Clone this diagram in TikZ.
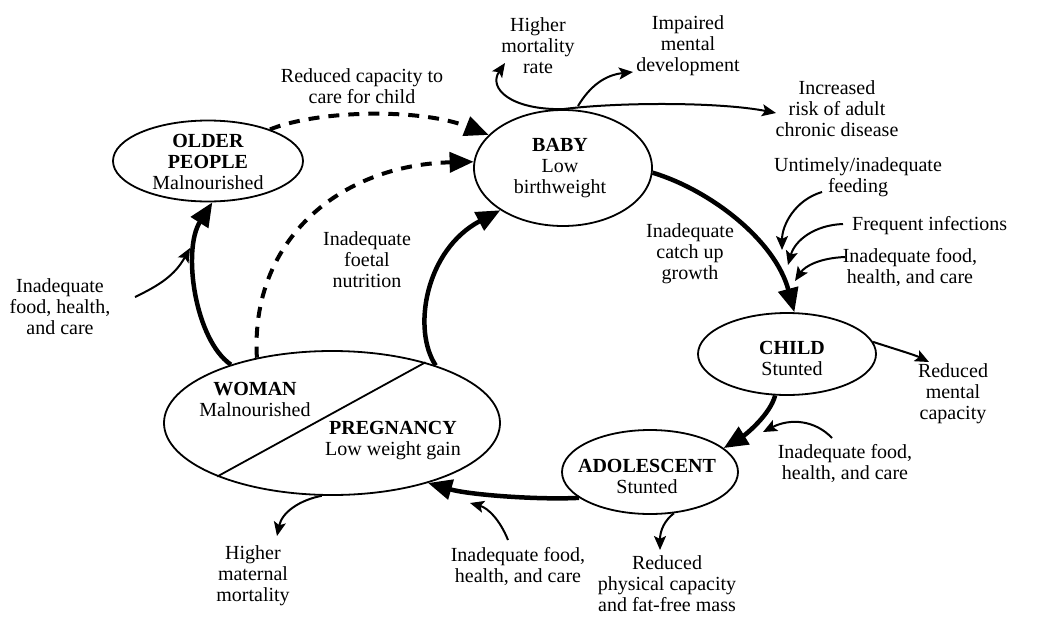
\documentclass[tikz,border=0pt]{standalone}
\usepackage{fontspec}
\setmainfont{Liberation Serif}
\usetikzlibrary{arrows.meta,shapes.geometric}
\begin{document}
\begin{tikzpicture}[x=1pt,y=-1pt,
  stage/.style={draw,ellipse,line width=1.8pt,inner sep=0pt},
  txt/.style={align=center,font=\fontsize{20}{21}\selectfont,inner sep=0pt},
  mainlink/.style={line width=4.5pt,-{Triangle[length=24pt,width=20pt]}},
  dashlink/.style={line width=4pt,dash pattern=on 11pt off 9pt,-{Triangle[length=24pt,width=20pt]}},
  thinlink/.style={line width=2pt,-{Stealth[length=14pt,width=12pt,inset=3pt]}},
]
\useasboundingbox (0,0) rectangle (1046,616);

% life-cycle stages
\node[stage,minimum width=190pt,minimum height=81pt] (op) at (208,161) {};
\node[stage,minimum width=178pt,minimum height=116pt] (baby) at (563,168) {};
\node[stage,minimum width=178pt,minimum height=82pt] (child) at (787,354) {};
\node[stage,minimum width=176pt,minimum height=84pt] (ado) at (650,472) {};
\node[stage,minimum width=336pt,minimum height=144pt] (wp) at (332,423) {};
\draw[line width=1.8pt] (wp.33.4) -- (wp.205.7);

\node[txt] (opt) at (208,162) {\textbf{OLDER}\\\textbf{PEOPLE}\\Malnourished};
\node[txt] (babyt) at (560,168) {\textbf{BABY}\\Low\\birthweight};
\node[txt] (childt) at (792,358) {\textbf{CHILD}\\Stunted};
\node[txt] (adot) at (647,476) {\textbf{ADOLESCENT}\\Stunted};
\node[txt] (womt) at (255,399) {\textbf{WOMAN}\\Malnourished};
\node[txt] (pregt) at (393,441) {\textbf{PREGNANCY}\\Low weight gain};

% side labels
\node[txt] (care) at (362,86) {Reduced capacity to\\care for child};
\node[txt] (foetal) at (367,260) {Inadequate\\foetal\\nutrition};
\node[txt] (fhcL) at (60,307) {Inadequate\\food, health,\\and care};
\node[txt] (mort) at (538,46) {Higher\\mortality\\rate};
\node[txt] (ment) at (688,46) {Impaired\\mental\\development};
\node[txt] (risk) at (837,109) {Increased\\risk of adult\\chronic disease};
\node[txt] (feed) at (858,177) {Untimely/inadequate\\feeding};
\node[txt,anchor=west] (infec) at (852,226) {Frequent infections};
\node[txt] (fhcR) at (910,267) {Inadequate food,\\health, and care};
\node[txt] (catch) at (690,254) {Inadequate\\catch up\\growth};
\node[txt] (rmc) at (953,394) {Reduced\\mental\\capacity};
\node[txt] (fhcC) at (845,463) {Inadequate food,\\health, and care};
\node[txt] (rpc) at (667,584) {Reduced\\physical capacity\\and fat-free mass};
\node[txt] (fhcB) at (518,566) {Inadequate food,\\health, and care};
\node[txt] (hmm) at (253,576) {Higher\\maternal\\mortality};

% main cycle
\draw[mainlink] (wp.150) .. controls (195,340) and (182,250) .. (op.276);
\draw[mainlink] (wp.29) .. controls (412,330) and (425,250) .. (baby.214);
\draw[mainlink] (baby.-3) .. controls (710,190) and (775,240) .. (child.80);
\draw[mainlink] (child.254) .. controls (770,415) and (745,435) .. (ado.18);
\draw[mainlink] (ado.200) .. controls (540,500) and (470,495) .. (wp.-32);

% intergenerational links
\draw[dashlink] (op.27) .. controls (318,110) and (420,108) .. (baby.156);
\draw[dashlink] (wp.139) .. controls (250,240) and (340,165) .. (baby.176);

% outcomes and influences
\coordinate (mortTip) at (505,63);
\coordinate (riskTip) at (776,113);
\coordinate (branch) at (578,106);
\coordinate (mentTip) at (633,72);
\draw[thinlink] (baby.north) .. controls (510,110) and (488,88) .. (mortTip);
\draw[thinlink] (baby.north) .. controls (620,102) and (720,102) .. (riskTip);
\draw[thinlink] (branch) .. controls (590,86) and (605,75) .. (mentTip);

\coordinate (feedS) at (822,192);
\coordinate (feedT) at (782,250);
\draw[thinlink] (feedS) .. controls (795,200) and (782,225) .. (feedT);
\coordinate (infS) at (843,224);
\coordinate (infT) at (788,265);
\draw[thinlink] (infS) .. controls (815,225) and (795,240) .. (infT);
\coordinate (fhcRS) at (845,257);
\coordinate (fhcRT) at (795,281);
\draw[thinlink] (fhcRS) .. controls (820,258) and (805,266) .. (fhcRT);

\coordinate (rmcT) at (929,362);
\draw[thinlink] (child.8) .. controls (895,349) and (915,355) .. (rmcT);
\coordinate (fhcCS) at (832,438);
\coordinate (fhcCT) at (763,432);
\draw[thinlink] (fhcCS) .. controls (815,420) and (790,418) .. (fhcCT);
\coordinate (rpcT) at (660,550);
\draw[thinlink] (ado.300) .. controls (665,520) and (660,530) .. (rpcT);
\coordinate (hmmT) at (277,536);
\draw[thinlink] (wp.262) .. controls (300,500) and (282,512) .. (hmmT);
\coordinate (fhcBS) at (508,540);
\coordinate (fhcBT) at (470,503);
\draw[thinlink] (fhcBS) .. controls (500,520) and (488,508) .. (fhcBT);
\coordinate (fhcLS) at (135,297);
\coordinate (fhcLT) at (190,248);
\draw[thinlink] (fhcLS) .. controls (160,285) and (175,275) .. (fhcLT);
\end{tikzpicture}
\end{document}
